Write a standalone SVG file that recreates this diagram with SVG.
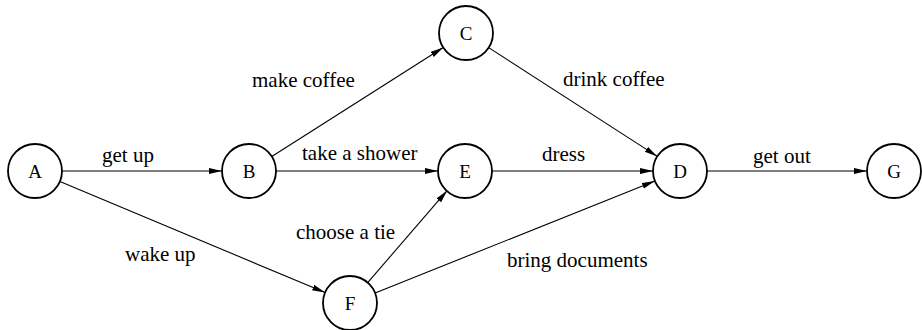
<svg xmlns="http://www.w3.org/2000/svg" width="922" height="330" viewBox="0 0 922 330">
<style>
.node circle{fill:#fff;stroke:#000;stroke-width:1.8}
.node text{font-family:"Liberation Serif","Times New Roman",serif;font-size:19px;text-anchor:middle;fill:#000}
.edge{stroke:#000;stroke-width:1.1;fill:none;marker-end:url(#arr)}
.lbl{font-family:"Liberation Serif","Times New Roman",serif;font-size:21px;fill:#000}
</style>
<defs>
<marker id="arr" markerUnits="userSpaceOnUse" markerWidth="14" markerHeight="8" refX="13" refY="3" orient="auto">
<path d="M0,0 L13,3 L0,6 Z" fill="#000"/>
</marker>
</defs>
<rect width="922" height="330" fill="#fff"/>
<g id="connectors">
<line class="edge" x1="62" y1="171" x2="222" y2="171"/>
<line class="edge" x1="271.8" y1="156.5" x2="443.2" y2="47.5"/>
<line class="edge" x1="276" y1="171" x2="438" y2="171"/>
<line class="edge" x1="488.7" y1="47.6" x2="657.3" y2="156.4"/>
<line class="edge" x1="492" y1="171" x2="653" y2="171"/>
<line class="edge" x1="707" y1="171" x2="867" y2="171"/>
<line class="edge" x1="59.9" y1="181.4" x2="325.1" y2="292.6"/>
<line class="edge" x1="367.7" y1="282.6" x2="447.3" y2="190.4"/>
<line class="edge" x1="375.1" y1="293" x2="654.9" y2="181"/>
</g>
<g id="labels">
<text class="lbl" x="102" y="162">get up</text>
<text class="lbl" x="252" y="87">make coffee</text>
<text class="lbl" x="302" y="160">take a shower</text>
<text class="lbl" x="563" y="86">drink coffee</text>
<text class="lbl" x="542" y="161">dress</text>
<text class="lbl" x="753" y="163">get out</text>
<text class="lbl" x="296" y="239">choose a tie</text>
<text class="lbl" x="125" y="261">wake up</text>
<text class="lbl" x="507" y="267">bring documents</text>
</g>
<g id="node-A" class="node"><circle cx="35" cy="171" r="27"/><text x="35" y="178">A</text></g>
<g id="node-B" class="node"><circle cx="249" cy="171" r="27"/><text x="249" y="178">B</text></g>
<g id="node-C" class="node"><circle cx="466" cy="33" r="27"/><text x="466" y="40">C</text></g>
<g id="node-E" class="node"><circle cx="465" cy="171" r="27"/><text x="465" y="178">E</text></g>
<g id="node-D" class="node"><circle cx="680" cy="171" r="27"/><text x="680" y="178">D</text></g>
<g id="node-G" class="node"><circle cx="894" cy="171" r="27"/><text x="894" y="178">G</text></g>
<g id="node-F" class="node"><circle cx="350" cy="303" r="27"/><text x="350" y="310">F</text></g>
</svg>
